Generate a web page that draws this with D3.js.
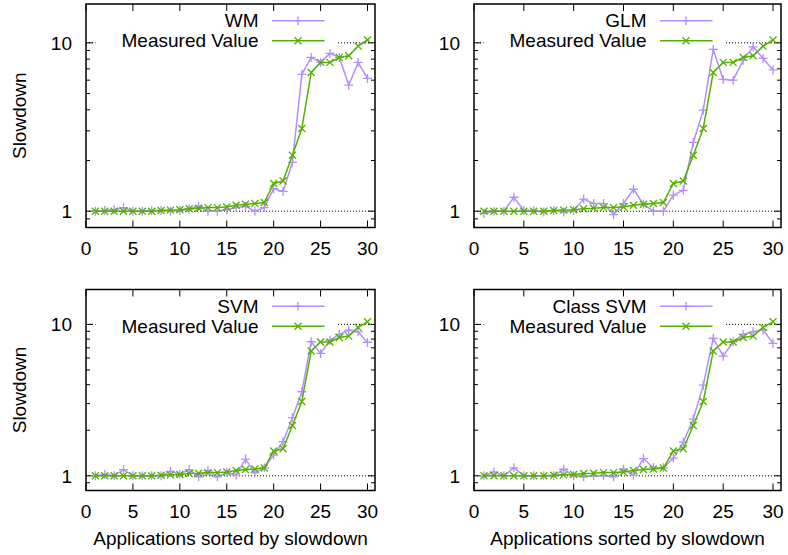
<!DOCTYPE html>
<html>
<head>
<meta charset="utf-8">
<script src="https://cdn.jsdelivr.net/npm/d3@7"></script>
<style>
  body { margin: 0; background: #fff; }
  text { font-family: "Liberation Sans", Arial, sans-serif; fill: #000; }
</style>
</head>
<body>
<script>
const apps = [1, 2, 3, 4, 5, 6, 7, 8, 9, 10, 11, 12, 13, 14, 15,
              16, 17, 18, 19, 20, 21, 22, 23, 24, 25, 26, 27, 28, 29, 30];

const measured = [1.0, 1.0, 1.0, 1.0, 1.0, 1.0, 1.0, 1.01, 1.015, 1.02, 1.035, 1.04, 1.05, 1.05, 1.06,
                  1.085, 1.1, 1.11, 1.126, 1.46, 1.51, 2.15, 3.1, 6.67, 7.65, 7.65, 8.19, 8.37, 9.56, 10.4];

const wm = [1.0, 1.01, 1.02, 1.05, 1.0, 1.0, 1.01, 1.01, 1.0, 1.01, 1.03, 1.07, 1.0, 1.0, 1.02,
            1.05, 1.07, 1.0, 1.05, 1.36, 1.31, 1.95, 6.5, 8.19, 7.65, 8.65, 8.19, 5.6, 7.65, 6.14];

const glm = [0.97, 1.0, 1.0, 1.21, 1.01, 1.01, 0.99, 1.01, 0.99, 1.01, 1.18, 1.11, 1.11, 0.955, 1.11,
             1.35, 1.1, 1.0, 1.0, 1.245, 1.33, 2.56, 3.98, 9.14, 6.06, 6.0, 7.89, 9.47, 8.08, 6.9];

const svm = [1.0, 1.02, 1.0, 1.1, 1.0, 1.0, 1.0, 1.0, 1.07, 1.025, 1.1, 0.985, 1.08, 0.985, 1.05,
             1.01, 1.29, 1.047, 1.13, 1.37, 1.68, 2.42, 3.59, 7.68, 6.43, 7.87, 8.58, 9.17, 8.93, 7.6];

const classSvm = [1.0, 1.06, 1.0, 1.13, 1.0, 1.0, 1.0, 1.0, 1.105, 1.0, 0.985, 1.0, 1.0, 0.985, 1.105,
                  1.01, 1.3, 1.13, 1.13, 1.31, 1.67, 2.37, 3.97, 8.1, 6.17, 7.68, 8.58, 8.93, 9.2, 7.5];

const modelNames = ["WM", "GLM", "SVM", "Class SVM"];
const modelValues = [wm, glm, svm, classSvm];
const measuredName = "Measured Value";
const xTicks = [0, 5, 10, 15, 20, 25, 30];
const yTicks = [1, 10];
const yMinorTicks = [0.9, 2, 3, 4, 5, 6, 7, 8, 9];

const width = 788, height = 555;
const purple = "#b48eff";
const green = "#55b000";
const fontSize = 19;

const svg = d3.select("body").append("svg")
    .attr("width", width)
    .attr("height", height);

// plot areas of the 2x2 grid
const layout = [
    { left: 86, right: 375, top: 4, bottom: 227.5, yLabel: true, xLabel: false },
    { left: 474, right: 781, top: 4, bottom: 227.5, yLabel: false, xLabel: false },
    { left: 86, right: 375, top: 289.5, bottom: 490.5, yLabel: true, xLabel: true },
    { left: 474, right: 781, top: 289.5, bottom: 490.5, yLabel: false, xLabel: true }
];

layout.forEach((p, k) => {
    const x = d3.scaleLinear().domain([0, 30.8]).range([p.left, p.right]);
    const y = d3.scaleLog().domain([0.8, 17]).range([p.bottom, p.top]);
    const g = svg.append("g");

    // dotted grid on major y ticks
    g.selectAll("line.grid")
        .data(yTicks)
        .enter().append("line")
        .attr("class", "grid")
        .attr("x1", p.left).attr("x2", p.right)
        .attr("y1", d => y(d)).attr("y2", d => y(d))
        .attr("stroke", "#000")
        .attr("stroke-width", 1)
        .attr("stroke-dasharray", "1,2");

    // ticks, mirrored on all sides
    const tickG = g.append("g").attr("stroke", "#000").attr("stroke-width", 1);
    xTicks.forEach(t => {
        tickG.append("line").attr("x1", x(t)).attr("x2", x(t)).attr("y1", p.bottom).attr("y2", p.bottom - 7);
        tickG.append("line").attr("x1", x(t)).attr("x2", x(t)).attr("y1", p.top).attr("y2", p.top + 7);
    });
    yTicks.forEach(t => {
        tickG.append("line").attr("x1", p.left).attr("x2", p.left + 7).attr("y1", y(t)).attr("y2", y(t));
        tickG.append("line").attr("x1", p.right).attr("x2", p.right - 7).attr("y1", y(t)).attr("y2", y(t));
    });
    yMinorTicks.forEach(t => {
        tickG.append("line").attr("x1", p.left).attr("x2", p.left + 4).attr("y1", y(t)).attr("y2", y(t));
        tickG.append("line").attr("x1", p.right).attr("x2", p.right - 4).attr("y1", y(t)).attr("y2", y(t));
    });

    // tick labels
    g.selectAll("text.xt")
        .data(xTicks)
        .enter().append("text")
        .attr("class", "xt")
        .attr("x", d => x(d))
        .attr("y", p.bottom + 27)
        .attr("text-anchor", "middle")
        .style("font-size", fontSize + "px")
        .text(d => d);

    g.selectAll("text.yt")
        .data(yTicks)
        .enter().append("text")
        .attr("class", "yt")
        .attr("x", p.left - 14)
        .attr("y", d => y(d) + 7)
        .attr("text-anchor", "end")
        .style("font-size", fontSize + "px")
        .text(d => d);

    if (p.yLabel) {
        g.append("text")
            .attr("transform", `translate(26,${(p.top + p.bottom) / 2}) rotate(-90)`)
            .attr("text-anchor", "middle")
            .style("font-size", fontSize + "px")
            .text("Slowdown");
    }
    if (p.xLabel) {
        g.append("text")
            .attr("x", (p.left + p.right) / 2)
            .attr("y", 545)
            .attr("text-anchor", "middle")
            .style("font-size", fontSize + "px")
            .text("Applications sorted by slowdown");
    }

    // series
    const series = [
        { name: modelNames[k], values: modelValues[k], color: purple, marker: "plus" },
        { name: measuredName, values: measured, color: green, marker: "cross" }
    ];

    const line = d3.line()
        .x((d, i) => x(apps[i]))
        .y(d => y(d));

    const markerPath = (type, cx, cy) => {
        if (type === "plus") {
            const r = 4.5;
            return `M${cx - r},${cy}H${cx + r}M${cx},${cy - r}V${cy + r}`;
        }
        const r = 3.5;
        return `M${cx - r},${cy - r}L${cx + r},${cy + r}M${cx - r},${cy + r}L${cx + r},${cy - r}`;
    };

    // key box (opaque, hides grid behind it)
    g.append("rect")
        .attr("x", p.left + 9.5)
        .attr("y", p.top + 8)
        .attr("width", 240.5)
        .attr("height", 39)
        .attr("fill", "#fff");

    series.forEach((s, j) => {
        g.append("path")
            .datum(s.values)
            .attr("d", line)
            .attr("fill", "none")
            .attr("stroke", s.color)
            .attr("stroke-width", 1.5);

        g.append("path")
            .attr("d", s.values.map((v, i) => markerPath(s.marker, x(apps[i]), y(v))).join(""))
            .attr("fill", "none")
            .attr("stroke", s.color)
            .attr("stroke-width", 1.3);

        const ky = p.top + 16.7 + j * 20;
        g.append("text")
            .attr("x", p.left + 172.5)
            .attr("y", ky + 6.5)
            .attr("text-anchor", "end")
            .style("font-size", fontSize + "px")
            .text(s.name);
        g.append("line")
            .attr("x1", p.left + 186).attr("x2", p.left + 238.5)
            .attr("y1", ky).attr("y2", ky)
            .attr("stroke", s.color)
            .attr("stroke-width", 1.5);
        g.append("path")
            .attr("d", markerPath(s.marker, p.left + 212, ky))
            .attr("stroke", s.color)
            .attr("stroke-width", 1.3);
    });

    // frame
    g.append("rect")
        .attr("x", p.left).attr("y", p.top)
        .attr("width", p.right - p.left).attr("height", p.bottom - p.top)
        .attr("fill", "none")
        .attr("stroke", "#000")
        .attr("stroke-width", 1.5);
});
</script>
</body>
</html>
